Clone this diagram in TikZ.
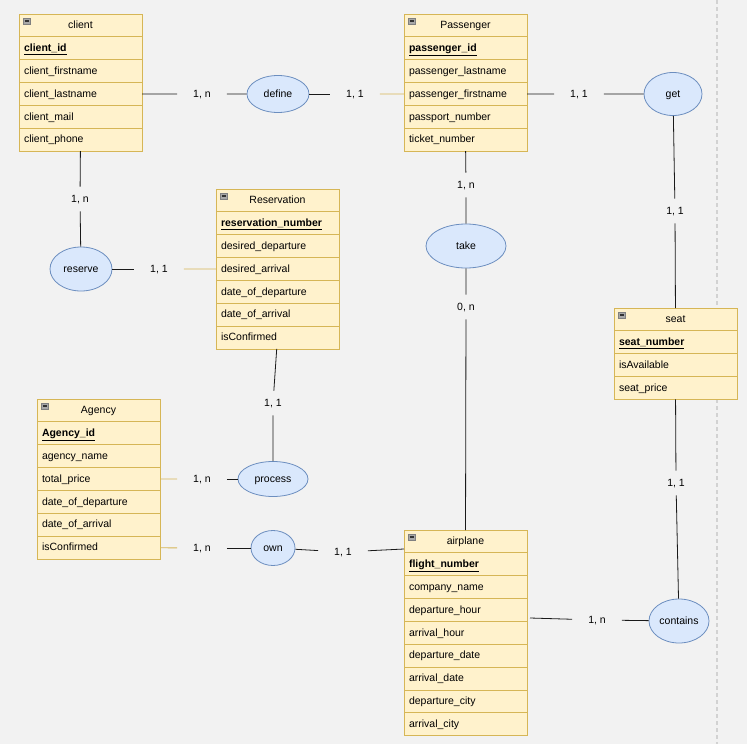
\documentclass[tikz,border=0pt]{standalone}
\usepackage{fontspec}
\setmainfont{Liberation Sans}
\usepackage{xcolor}
\definecolor{erbg}{HTML}{F2F2F2}
\definecolor{erfill}{HTML}{FFF2CC}
\definecolor{erline}{HTML}{D6B656}
\definecolor{relfill}{HTML}{DAE8FC}
\definecolor{relline}{HTML}{6C8EBF}
\definecolor{erlink}{HTML}{1A1A1A}
\definecolor{ericon}{HTML}{A8A8A8}
\usepackage{tikz}
\usetikzlibrary{positioning,shapes.geometric,backgrounds}

\newcommand\erfont{\fontsize{10.5}{12}\selectfont}
\tikzset{
  erhead/.style={draw=erline,fill=erfill,line width=0.8pt,minimum width=123pt,
    minimum height=22.85pt,inner sep=0pt,outer sep=0pt,text height=8.5pt,text depth=2pt,font=\erfont},
  errow/.style={erhead,text width=113pt,align=left},
  errel/.style={ellipse,draw=relline,fill=relfill,line width=0.8pt,inner sep=0pt,
    text height=8pt,text depth=1.5pt,font=\erfont},
  ercard/.style={inner xsep=16pt,inner ysep=8pt,text height=7.5pt,text depth=1pt,font=\erfont},
  erlink/.style={draw=erlink,line width=0.8pt},
  ertan/.style={draw=erline,line width=0.8pt}
}

% name, north west corner, title, key, other attributes
\newcommand\erentity[5]{%
  \node[erhead,anchor=north west] (#1) at (#2) {#3};
  \draw[fill=ericon,draw=gray,line width=0.4pt]
    ([xshift=4pt,yshift=-4pt]#1.north west) rectangle +(7pt,-6pt);
  \draw[black!80,line width=1.2pt]
    ([xshift=5.5pt,yshift=-7pt]#1.north west) -- +(4pt,0);
  \node[errow,below=0pt of #1] (#1-1) {\underline{\textbf{#4}}};
  \foreach \attr [count=\i from 2] in {#5}{%
    \pgfmathtruncatemacro\j{\i-1}
    \node[errow,below=0pt of #1-\j] (#1-\i) {\attr};
  }%
}

\begin{document}
\begin{tikzpicture}[x=1pt,y=-1pt]
\useasboundingbox (0,0) rectangle (747,744);
\fill[erbg] (0,0) rectangle (747,744);
\draw[gray!35,line width=2pt,dash pattern=on 4pt off 3pt] (716.5,0) -- (716.5,744);

\erentity{client}{19,14}{client}{client\_id}
  {client\_firstname,client\_lastname,client\_mail,client\_phone}
\erentity{passenger}{404,14}{Passenger}{passenger\_id}
  {passenger\_lastname,passenger\_firstname,passport\_number,ticket\_number}
\erentity{reservation}{216,189}{Reservation}{reservation\_number}
  {desired\_departure,desired\_arrival,date\_of\_departure,date\_of\_arrival,isConfirmed}
\erentity{agency}{37,399}{Agency}{Agency\_id}
  {agency\_name,total\_price,date\_of\_departure,date\_of\_arrival,isConfirmed}
\erentity{seat}{614,308}{seat}{seat\_number}
  {isAvailable,seat\_price}
\erentity{airplane}{404,530}{airplane}{flight\_number}
  {company\_name,departure\_hour,arrival\_hour,departure\_date,arrival\_date,departure\_city,arrival\_city}

\node[errel,minimum width=62pt,minimum height=37pt] (define) at (278,94) {define};
\node[errel,minimum width=58pt,minimum height=43pt] (get) at (673,94) {get};
\node[errel,minimum width=62pt,minimum height=44pt] (reserve) at (81,269) {reserve};
\node[errel,minimum width=80pt,minimum height=44pt] (take) at (466,246) {take};
\node[errel,minimum width=70pt,minimum height=35pt] (process) at (273,479) {process};
\node[errel,minimum width=44pt,minimum height=35pt] (own) at (273,548) {own};
\node[errel,minimum width=60pt,minimum height=44pt] (contains) at (679,621) {contains};

\node[ercard] (c1) at (202,94) {1, n};
\node[ercard] (c2) at (355,94) {1, 1};
\node[ercard] (c3) at (579,94) {1, 1};
\node[ercard] (c4) at (466,185) {1, n};
\node[ercard] (c5) at (466,307) {0, n};
\node[ercard] (c6) at (675,211) {1, 1};
\node[ercard] (c7) at (80,199) {1, n};
\node[ercard] (c8) at (159,269) {1, 1};
\node[ercard] (c9) at (273,403) {1, 1};
\node[ercard] (c10) at (202,479) {1, n};
\node[ercard] (c11) at (202,548) {1, n};
\node[ercard] (c12) at (343,552) {1, 1};
\node[ercard] (c13) at (676,483) {1, 1};
\node[ercard] (c14) at (597,620) {1, n};

\coordinate (apw) at (404,549);
\coordinate (ape) at (530,618);

\draw[erlink] (client-3) -- (c1) -- (define);
\draw[erlink] (define) -- (c2);
\draw[ertan] (c2) -- (passenger-3);
\draw[erlink] (passenger-3) -- (c3) -- (get);
\draw[erlink] (passenger-5) -- (c4) -- (take);
\draw[erlink] (take) -- (c5) -- (airplane);
\draw[erlink] (get) -- (c6) -- (seat);
\draw[erlink] (client-5) -- (c7) -- (reserve);
\draw[erlink] (reserve) -- (c8);
\draw[ertan] (c8) -- (reservation-3);
\draw[erlink] (reservation-6) -- (c9) -- (process);
\draw[ertan] (agency-3) -- (c10);
\draw[erlink] (c10) -- (process);
\draw[ertan] (agency-6) -- (c11);
\draw[erlink] (c11) -- (own);
\draw[erlink] (own) -- (c12) -- (apw);
\draw[erlink] (seat-3) -- (c13) -- (contains);
\draw[erlink] (ape) -- (c14) -- (contains);
\end{tikzpicture}
\end{document}
